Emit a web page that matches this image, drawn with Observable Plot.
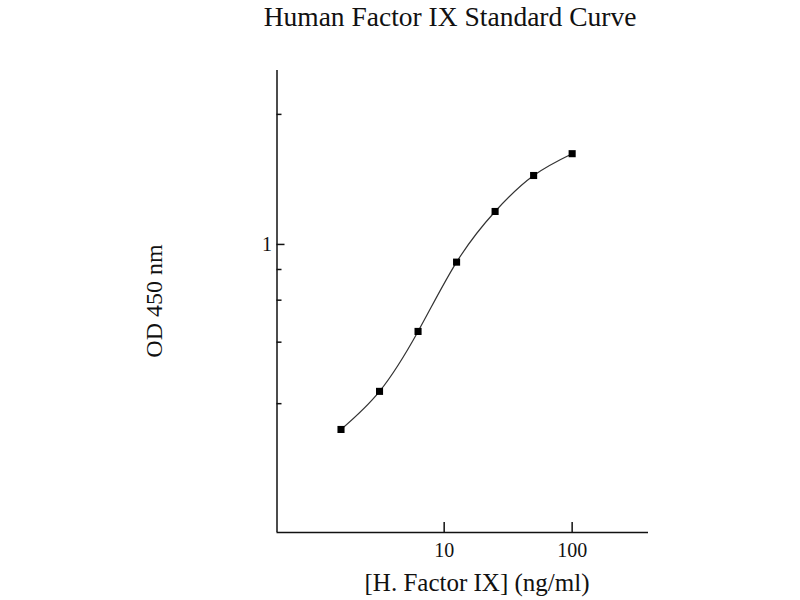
<!DOCTYPE html>
<html>
<head>
<meta charset="utf-8">
<script src="https://cdn.jsdelivr.net/npm/d3@7"></script>
<script src="https://cdn.jsdelivr.net/npm/@observablehq/plot@0.6"></script>
<style>
  html, body { margin: 0; padding: 0; background: #fff; }
  #chart { width: 800px; height: 600px; }
</style>
</head>
<body>
<div id="chart"></div>
<script>
// Data
const concentration = [1.5625, 3.125, 6.25, 12.5, 25, 50, 100];
const od450 = [0.373, 0.457, 0.629, 0.910, 1.192, 1.444, 1.622];
const xTicks = [10, 100];
const yMajorTicks = [1];
const yMinorTicks = [2, 0.875, 0.743, 0.594, 0.428];
const xDomain = [0.494, 395];
const yDomain = [0.2154, 2.527];

const title = "Human Factor IX Standard Curve";
const xLabel = "[H. Factor IX] (ng/ml)";
const yLabel = "OD 450 nm";

const data = concentration.map((c, i) => ({c, od: od450[i]}));

const W = 800, H = 600;
const mL = 276.5, mR = 152, mT = 70, mB = 68;
const pw = W - mL - mR, ph = H - mT - mB;
const font = "'Liberation Serif', 'Times New Roman', serif";
const ink = "#111";

const chart = Plot.plot({
  width: W,
  height: H,
  marginLeft: mL,
  marginRight: mR,
  marginTop: mT,
  marginBottom: mB,
  style: {fontFamily: font, background: "#fff", color: ink},
  x: {type: "log", domain: xDomain},
  y: {type: "log", domain: yDomain},
  marks: [
    Plot.ruleX([xDomain[0]], {stroke: ink, strokeWidth: 1.5}),
    Plot.ruleY([yDomain[0]], {stroke: ink, strokeWidth: 1.5}),
    // inward ticks
    Plot.tickX(xTicks, {x: d => d, stroke: ink, strokeWidth: 1.5, insetTop: ph - 10}),
    Plot.tickY(yMajorTicks, {y: d => d, stroke: ink, strokeWidth: 1.5, insetRight: pw - 8}),
    Plot.tickY(yMinorTicks, {y: d => d, stroke: ink, strokeWidth: 1.5, insetRight: pw - 5}),
    Plot.axisX({ticks: xTicks, tickSize: 0, tickPadding: 10, fontSize: 20, tickFormat: d => String(d), label: null, fill: ink}),
    Plot.axisY({ticks: yMajorTicks, tickSize: 0, tickPadding: 5, fontSize: 20, tickFormat: d => String(d), label: null, fill: ink}),
    Plot.line(data, {x: "c", y: "od", curve: "natural", stroke: "#333", strokeWidth: 1.2}),
    Plot.dot(data, {x: "c", y: "od", symbol: "square", r: 4, fill: "#000", stroke: "none"})
  ]
});

const svg = d3.select(chart);
svg.append("text")
  .attr("x", 450).attr("y", 25.5)
  .attr("text-anchor", "middle")
  .attr("font-family", font).attr("font-size", 27.5).attr("fill", ink)
  .text(title);
svg.append("text")
  .attr("x", 477).attr("y", 591)
  .attr("text-anchor", "middle")
  .attr("font-family", font).attr("font-size", 25).attr("fill", ink)
  .text(xLabel);
svg.append("text")
  .attr("transform", "translate(162,301) rotate(-90)")
  .attr("text-anchor", "middle")
  .attr("font-family", font).attr("font-size", 24).attr("fill", ink)
  .text(yLabel);

document.getElementById("chart").appendChild(chart);
</script>
</body>
</html>
